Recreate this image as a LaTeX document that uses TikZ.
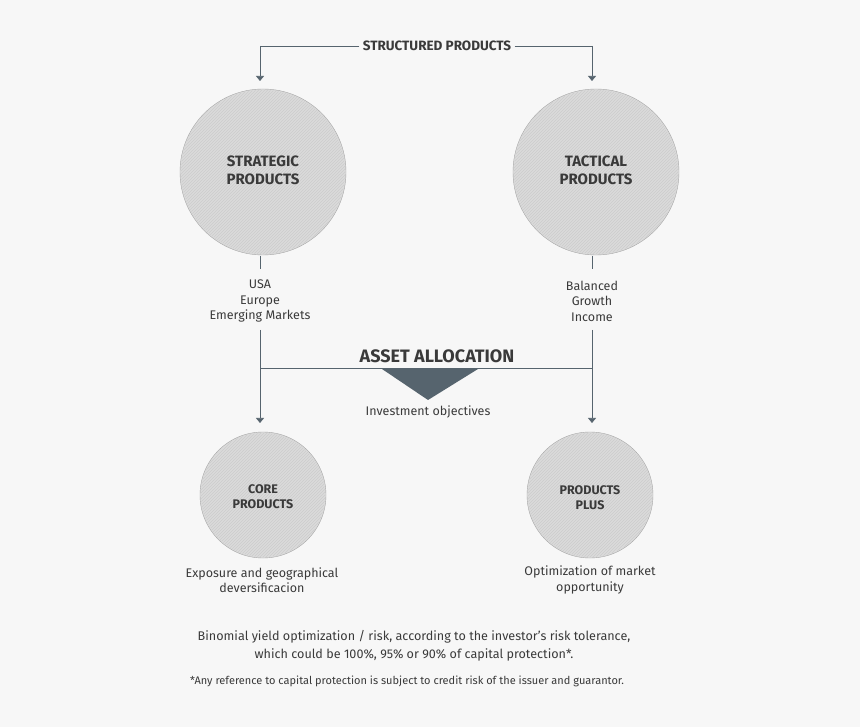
\documentclass[tikz,border=0pt]{standalone}
\usepackage{fontspec}
\setmainfont{Fira Sans}
\usetikzlibrary{positioning}
\usetikzlibrary{arrows.meta}
\usetikzlibrary{patterns}
\definecolor{slate}{HTML}{56646E}
\definecolor{ink}{HTML}{3A3A3A}
\definecolor{bgc}{HTML}{F7F7F7}
\tikzset{
    bubble/.style = {circle, draw=gray!70, fill=gray!28},
    hatch/.style = {circle, pattern=north east lines, pattern color=white!60!gray},
    bigtext/.style = {align=center, text=ink, font=\fontsize{15}{18}\selectfont\bfseries},
    smalltext/.style = {align=center, text=ink, font=\fontsize{12.5}{15}\selectfont\bfseries},
    caption/.style = {align=center, text=ink, font=\fontsize{12.5}{15.5}\selectfont},
    link/.style = {-{Triangle[width=8pt,length=5pt]}, slate, semithick},
    wire/.style = {-, slate, semithick}
}
\begin{document}
\begin{tikzpicture}[x=1pt,y=-1pt]
  \fill[bgc] (0,0) rectangle (860,727);
  \useasboundingbox (0,0) rectangle (860,727);
  % top
  \node[font=\fontsize{13.5}{16}\selectfont\bfseries, text=ink] (sp) at (437,46) {STRUCTURED PRODUCTS};
  \coordinate (tl) at (260,46);
  \coordinate (tr) at (592,46);
  % big circles
  \node[bubble, minimum size=166pt] (strat) at (263,172) {};
  \node[hatch, minimum size=164pt] at (strat) {};
  \node[bigtext] at (263,170) {STRATEGIC\\PRODUCTS};
  \node[bubble, minimum size=166pt] (tact) at (596,172) {};
  \node[hatch, minimum size=164pt] at (tact) {};
  \node[bigtext] at (596,170) {TACTICAL\\PRODUCTS};
  \draw[wire] (sp.west) -- (tl);
  \draw[link] (tl) -- (260,81);
  \draw[wire] (sp.east) -- (tr);
  \draw[link] (tr) -- (592,81);
  % lists
  \node[caption] (regions) at (260,301) {USA\\Europe\\Emerging Markets};
  \node[caption] (profiles) at (592,301) {Balanced\\Growth\\Income};
  \draw[wire] (260,256) -- (260,269);
  \draw[wire] (592,256) -- (592,269);
  % small circles
  \node[bubble, minimum size=126pt] (core) at (263,495) {};
  \node[hatch, minimum size=124pt] at (core) {};
  \node[smalltext] at (263,497) {CORE\\PRODUCTS};
  \node[bubble, minimum size=126pt] (plus) at (590,495) {};
  \node[hatch, minimum size=124pt] at (plus) {};
  \node[smalltext] at (590,498) {PRODUCTS\\PLUS};
  \draw[link] (260,330) -- (260,423);
  \draw[link] (592,330) -- (592,423);
  \draw[wire] (260,368) -- (592,368);
  % asset allocation
  \node[font=\fontsize{18}{20}\selectfont\bfseries, text=ink] (aa) at (437,356) {ASSET ALLOCATION};
  \fill[slate] (382,369) -- (478,369) -- (428,400) -- cycle;
  \node[caption] (obj) at (428,412) {Investment objectives};
  % captions
  \node[caption] (expo) at (262,580) {Exposure and geographical\\deversificacion};
  \node[caption] (opti) at (590,580) {Optimization of market\\opportunity};
  \node[caption, font=\fontsize{12.6}{18}\selectfont] (binom) at (414,646) {Binomial yield optimization / risk, according to the investor's risk tolerance,\\which could be 100\%, 95\% or 90\% of capital protection*.};
  \node[caption, font=\fontsize{11}{12}\selectfont] (note) at (407,681) {*Any reference to capital protection is subject to credit risk of the issuer and guarantor.};
\end{tikzpicture}
\end{document}
